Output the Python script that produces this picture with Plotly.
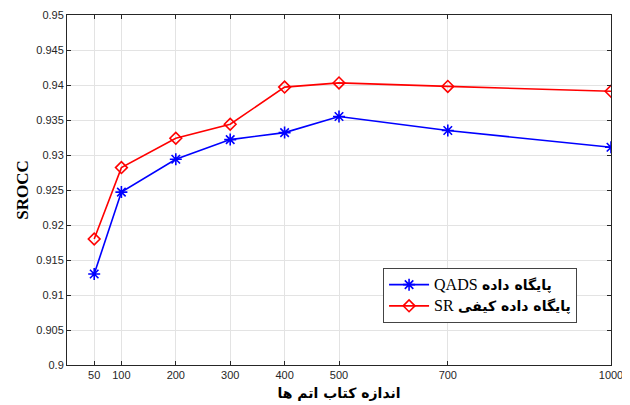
import plotly.graph_objects as go

tailles = [50, 100, 200, 300, 400, 500, 700, 1000]
srocc_qads = [0.9130, 0.9247, 0.9294, 0.9322, 0.9332, 0.9355, 0.9335, 0.9311]
srocc_sr = [0.9180, 0.9282, 0.9324, 0.9344, 0.9397, 0.9403, 0.9398, 0.9391]
ytick_vals = [0.9, 0.905, 0.91, 0.915, 0.92, 0.925, 0.93, 0.935, 0.94, 0.945, 0.95]
ytick_text = ["0.9", "0.905", "0.91", "0.915", "0.92", "0.925", "0.93", "0.935", "0.94", "0.945", "0.95"]

nom_qads = "<span style='font-family:Liberation Serif;font-size:16px'>QADS</span> <b>پایگاه داده</b>"
nom_sr = "<span style='font-family:Liberation Serif;font-size:16px'>SR</span> <b>پایگاه داده کیفی</b>"

fig = go.Figure()
fig.add_trace(go.Scatter(x=tailles, y=srocc_qads, mode="lines+markers", name=nom_qads,
                         line=dict(color="blue", width=1.6),
                         marker=dict(symbol="asterisk-open", size=10, line=dict(color="blue", width=1.6))))
fig.add_trace(go.Scatter(x=tailles, y=srocc_sr, mode="lines+markers", name=nom_sr,
                         line=dict(color="red", width=1.6),
                         marker=dict(symbol="diamond-open", size=9, color="red", line=dict(color="red", width=1.6))))

# la page ajoute 8px de marge au body : marges compensées
fig.update_layout(width=630, height=405, margin=dict(l=59, r=27, t=7, b=48, autoexpand=False),
                  paper_bgcolor="white", plot_bgcolor="white",
                  font=dict(family="Liberation Sans", color="#262626", size=11),
                  legend=dict(x=0.581, y=0.277, xanchor="left", yanchor="top",
                              bgcolor="white", bordercolor="#444", borderwidth=1,
                              font=dict(family="DejaVu Sans", size=14, color="black"),
                              tracegroupgap=4, itemwidth=40))
fig.update_xaxes(range=[0, 1000], tickvals=tailles, ticks="inside", ticklen=4, tickcolor="#262626",
                 showline=True, linecolor="#262626", linewidth=1, mirror="ticks", automargin=False,
                 showgrid=True, gridcolor="#e3e3e3", zeroline=False,
                 title=dict(text="<b>اندازه کتاب اتم ها</b>", font=dict(family="DejaVu Sans", size=14, color="black"), standoff=7))
fig.update_yaxes(range=[0.9, 0.95], tickvals=ytick_vals, ticktext=ytick_text, ticks="inside", ticklen=4,
                 tickcolor="#262626", showline=True, linecolor="#262626", linewidth=1, mirror="ticks", automargin=False,
                 showgrid=True, gridcolor="#e3e3e3", zeroline=False,
                 title=dict(text="<b>SROCC</b>", font=dict(family="Liberation Serif", size=17, color="black"), standoff=3))

fig.write_html("out.html")
